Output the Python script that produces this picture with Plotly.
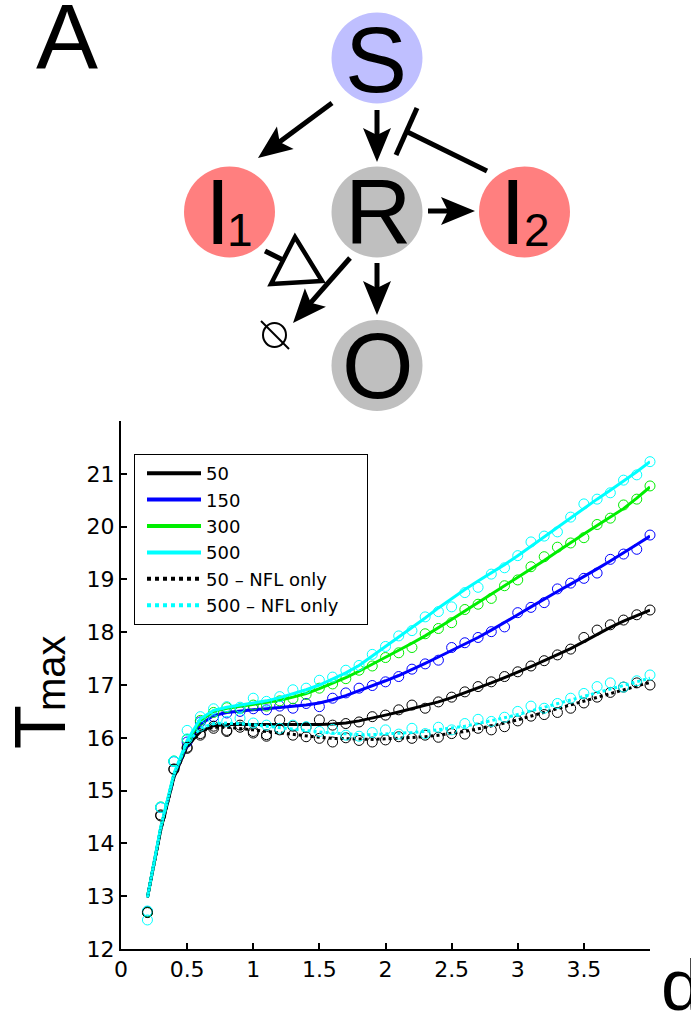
import math
import plotly.graph_objects as go

W, H = 691, 1015
FONT = "Liberation Sans, Arial, Helvetica, sans-serif"
TICKFONT = "DejaVu Sans, Verdana, sans-serif"

# ---------------- data ----------------
d_values = [0.2, 0.3, 0.4, 0.5, 0.6, 0.7, 0.8, 0.9, 1.0, 1.1, 1.2, 1.3, 1.4,
            1.5, 1.6, 1.7, 1.8, 1.9, 2.0, 2.1, 2.2, 2.3, 2.4, 2.5, 2.6, 2.7,
            2.8, 2.9, 3.0, 3.1, 3.2, 3.3, 3.4, 3.5, 3.6, 3.7, 3.8, 3.9, 4.0]

series_names = ["50", "150", "300", "500", "50 \u2013 NFL only", "500 \u2013 NFL only"]

obs_50 = [12.70, 14.54, 15.40, 15.80, 16.05, 16.18, 16.12, 16.24, 16.09, 16.06, 16.34, 16.22, 16.20,
          16.34, 16.24, 16.27, 16.30, 16.40, 16.43, 16.53, 16.62, 16.56, 16.68, 16.77, 16.87, 16.97,
          17.06, 17.16, 17.25, 17.36, 17.46, 17.57, 17.68, 17.90, 18.04, 18.14, 18.23, 18.33, 18.42]
obs_150 = [12.71, 14.68, 15.55, 15.92, 16.30, 16.40, 16.47, 16.50, 16.55, 16.53, 16.60, 16.56, 16.65,
           16.59, 16.75, 16.85, 16.94, 16.99, 17.06, 17.16, 17.30, 17.40, 17.47, 17.71, 17.80, 17.90,
           18.01, 18.10, 18.37, 18.47, 18.56, 18.82, 18.93, 19.02, 19.12, 19.38, 19.48, 19.57, 19.84]
obs_300 = [12.70, 14.69, 15.56, 15.97, 16.33, 16.48, 16.57, 16.55, 16.62, 16.60, 16.70, 16.74, 16.82,
           16.94, 17.02, 17.12, 17.28, 17.36, 17.52, 17.61, 17.71, 17.97, 18.07, 18.18, 18.43, 18.53,
           18.64, 18.88, 18.99, 19.24, 19.43, 19.61, 19.69, 19.79, 20.04, 20.16, 20.41, 20.52, 20.77]
obs_500 = [12.72, 14.69, 15.56, 16.14, 16.40, 16.55, 16.59, 16.58, 16.75, 16.69, 16.78, 16.91, 16.94,
           17.09, 17.15, 17.28, 17.37, 17.58, 17.73, 17.93, 18.03, 18.29, 18.39, 18.48, 18.75, 18.85,
           19.10, 19.22, 19.45, 19.71, 19.82, 19.90, 20.18, 20.43, 20.52, 20.64, 20.88, 20.98, 21.23]
obs_50_nfl = [12.69, 14.52, 15.41, 15.82, 16.08, 16.22, 16.14, 16.20, 16.12, 16.03, 16.15, 16.05, 16.02,
              15.99, 15.92, 16.00, 15.95, 15.92, 15.96, 16.02, 15.99, 16.05, 16.01, 16.08, 16.07, 16.18,
              16.15, 16.21, 16.32, 16.41, 16.44, 16.48, 16.56, 16.66, 16.77, 16.86, 16.96, 17.04, 17.00]
obs_500_nfl = [12.55, 14.68, 15.55, 15.98, 16.22, 16.34, 16.31, 16.37, 16.28, 16.24, 16.18, 16.24, 16.21,
               16.12, 16.16, 16.05, 16.03, 16.10, 16.15, 16.07, 16.18, 16.08, 16.20, 16.15, 16.27, 16.35,
               16.31, 16.39, 16.50, 16.60, 16.56, 16.65, 16.75, 16.84, 16.97, 17.04, 16.96, 17.08, 17.19]

fit_50 = [12.98, 14.25, 15.25, 15.84, 16.12, 16.23, 16.25, 16.25, 16.25, 16.25, 16.25, 16.24, 16.24,
          16.25, 16.26, 16.28, 16.32, 16.37, 16.43, 16.49, 16.55, 16.61, 16.68, 16.76, 16.85, 16.95,
          17.04, 17.14, 17.24, 17.35, 17.46, 17.57, 17.69, 17.82, 17.96, 18.09, 18.21, 18.32, 18.42]
fit_150 = [12.98, 14.27, 15.28, 15.88, 16.25, 16.42, 16.48, 16.51, 16.53, 16.55, 16.57, 16.59, 16.62,
           16.66, 16.72, 16.80, 16.89, 16.98, 17.08, 17.18, 17.29, 17.41, 17.53, 17.65, 17.77, 17.90,
           18.04, 18.18, 18.33, 18.48, 18.63, 18.77, 18.91, 19.05, 19.20, 19.35, 19.50, 19.66, 19.82]
fit_300 = [12.98, 14.28, 15.30, 15.92, 16.32, 16.50, 16.56, 16.60, 16.63, 16.67, 16.71, 16.77, 16.84,
           16.93, 17.03, 17.14, 17.26, 17.39, 17.52, 17.65, 17.79, 17.93, 18.08, 18.24, 18.40, 18.56,
           18.72, 18.88, 19.03, 19.19, 19.36, 19.53, 19.70, 19.86, 20.02, 20.18, 20.34, 20.54, 20.75]
fit_500 = [12.98, 14.30, 15.32, 15.95, 16.36, 16.52, 16.58, 16.62, 16.66, 16.70, 16.76, 16.83, 16.91,
           17.00, 17.11, 17.23, 17.37, 17.55, 17.72, 17.90, 18.08, 18.27, 18.46, 18.64, 18.81, 18.97,
           19.12, 19.28, 19.45, 19.63, 19.80, 19.98, 20.17, 20.35, 20.52, 20.69, 20.86, 21.04, 21.23]
fit_50_nfl = [12.98, 14.25, 15.25, 15.84, 16.12, 16.20, 16.20, 16.18, 16.15, 16.12, 16.09, 16.06, 16.03,
              16.01, 15.99, 15.98, 15.97, 15.97, 15.98, 15.99, 16.00, 16.02, 16.05, 16.08, 16.12, 16.17,
              16.22, 16.28, 16.34, 16.41, 16.48, 16.55, 16.62, 16.70, 16.77, 16.84, 16.91, 16.98, 17.05]
fit_500_nfl = [12.98, 14.30, 15.30, 15.90, 16.18, 16.27, 16.28, 16.27, 16.25, 16.22, 16.19, 16.16, 16.13,
               16.11, 16.09, 16.07, 16.06, 16.06, 16.07, 16.08, 16.10, 16.12, 16.15, 16.18, 16.22, 16.27,
               16.32, 16.38, 16.44, 16.51, 16.57, 16.64, 16.71, 16.78, 16.85, 16.92, 16.99, 17.06, 17.13]

x_tick_vals = [0, 0.5, 1, 1.5, 2, 2.5, 3, 3.5]
x_tick_text = ["0", "0.5", "1", "1.5", "2", "2.5", "3", "3.5"]
y_tick_vals = [12, 13, 14, 15, 16, 17, 18, 19, 20, 21]
y_tick_text = ["12", "13", "14", "15", "16", "17", "18", "19", "20", "21"]

# ---------------- styles ----------------
colors = ["#000000", "#0000FF", "#00EE00", "#00FFFF", "#000000", "#00FFFF"]
dashes = ["solid", "solid", "solid", "solid", "dot", "dot"]
obs_all = [obs_50, obs_150, obs_300, obs_500, obs_50_nfl, obs_500_nfl]
fit_all = [fit_50, fit_150, fit_300, fit_500, fit_50_nfl, fit_500_nfl]
LEGEND_PAD = "\u00a0" * 4   # extra right padding inside the legend box


def px(v):
    return v / W


def py(v):
    return 1 - v / H


fig = go.Figure()

# legend-only entries (thicker sample lines, as in the reference legend)
for name, c, dsh in zip(series_names, colors, dashes):
    fig.add_trace(go.Scatter(x=[None], y=[None], mode="lines", name=name + LEGEND_PAD,
                             line=dict(color=c, width=4, dash=dsh),
                             legendgroup=name, showlegend=True))

for name, c, dsh, ob, ft in zip(series_names, colors, dashes, obs_all, fit_all):
    fig.add_trace(go.Scatter(x=d_values, y=ob, mode="markers", showlegend=False,
                             legendgroup=name, cliponaxis=False, hoverinfo="skip",
                             marker=dict(symbol="circle-open", size=10, color=c,
                                         line=dict(width=1, color=c))))
    fig.add_trace(go.Scatter(x=d_values, y=ft, mode="lines", showlegend=False,
                             legendgroup=name, cliponaxis=False,
                             line=dict(color=c, width=3, dash=dsh)))

shapes = []
annotations = []

# ---------------- network diagram (panel A) ----------------
nodes = {
    "S": (377, 58, "#BFBFFF"),
    "I1": (229.5, 212, "#FF7F7F"),
    "R": (377, 212, "#BFBFBF"),
    "I2": (524.5, 212, "#FF7F7F"),
    "O": (377, 365.5, "#BFBFBF"),
}
RAD = 45.5
for key, (cx, cy, col) in nodes.items():
    shapes.append(dict(type="circle", xref="paper", yref="paper",
                       x0=px(cx - RAD), x1=px(cx + RAD), y0=py(cy + RAD), y1=py(cy - RAD),
                       fillcolor=col, line=dict(width=0), layer="below"))

LW = 5


def seg(p0, p1, w=LW, color="black"):
    shapes.append(dict(type="line", xref="paper", yref="paper",
                       x0=px(p0[0]), y0=py(p0[1]), x1=px(p1[0]), y1=py(p1[1]),
                       line=dict(color=color, width=w)))


def poly(pts, fill="black", lw=0):
    path = "M " + " L ".join(f"{px(a):.5f},{py(b):.5f}" for a, b in pts) + " Z"
    shapes.append(dict(type="path", xref="paper", yref="paper", path=path,
                       fillcolor=fill, line=dict(color="black", width=lw)))


def arrow(tail, tip, L=34, hw=14, notch=7):
    dx, dy = tip[0] - tail[0], tip[1] - tail[1]
    n = math.hypot(dx, dy)
    ux, uy = dx / n, dy / n
    nx, ny = -uy, ux
    bx, by = tip[0] - L * ux, tip[1] - L * uy
    mid = (tip[0] - (L - notch) * ux, tip[1] - (L - notch) * uy)
    seg(tail, (mid[0] + 2 * ux, mid[1] + 2 * uy))
    poly([tip, (bx + hw * nx, by + hw * ny), mid, (bx - hw * nx, by - hw * ny)])


arrow((332, 103), (258, 158))      # S -> I1
arrow((377, 110), (377, 162))      # S -> R
arrow((428, 211), (475, 211))      # R -> I2
arrow((377, 263), (377, 315))      # R -> O
arrow((350, 258), (293, 323))      # R -> degradation

# I2 inhibits S -> R
seg((487, 171), (406.5, 131.5))
seg((417, 108), (396, 155))

# I1 acts on degradation (open triangle head)
seg((265, 251), (283, 260))
poly([(295, 237), (271, 284), (322, 281)], fill="white", lw=4.5)

# empty-set symbol
shapes.append(dict(type="circle", xref="paper", yref="paper",
                   x0=px(263), x1=px(286), y0=py(347), y1=py(323),
                   line=dict(color="black", width=2)))
seg((261, 321), (289, 349), w=2)


def label(txt, x, y, size, angle=0, family=FONT, xanchor="center"):
    annotations.append(dict(text=txt, x=px(x), y=py(y), xref="paper", yref="paper",
                            showarrow=False, xanchor=xanchor, yanchor="middle",
                            textangle=angle, borderpad=0,
                            font=dict(size=size, family=family, color="black")))


label("A", 67, 37, 93)
label("S", 376, 60, 93)
label("R", 377.5, 212, 92)
label("I", 218, 212, 92)
label("1", 240, 230, 46)
label("I", 513, 212, 92)
label("2", 537, 230, 46)
label("O", 377.5, 366, 92)

# axis titles
label("T", 40, 727, 72, angle=-90)
label("max", 51, 673, 40, angle=-90,
      family="Liberation Sans Narrow, Arial Narrow, Liberation Sans, Arial")
label("d", 659.5, 984, 73, xanchor="left")

fig.update_layout(
    width=W, height=H,
    margin=dict(l=0, r=0, t=0, b=0, autoexpand=False),
    paper_bgcolor="white", plot_bgcolor="white",
    font=dict(family=FONT, color="black"),
    shapes=shapes, annotations=annotations,
    showlegend=True,
    legend=dict(x=px(134), y=py(454), xanchor="left", yanchor="top",
                bgcolor="white", bordercolor="black", borderwidth=1,
                font=dict(size=18, family=TICKFONT, color="black"),
                itemwidth=54, indentation=7,
                traceorder="grouped", tracegroupgap=0),
    xaxis=dict(domain=[px(121), px(650)], range=[0, 4], showline=True,
               linecolor="black", linewidth=2, ticks="inside", ticklen=6,
               tickwidth=1.5, tickcolor="black", tickvals=x_tick_vals,
               ticktext=x_tick_text, tickfont=dict(size=22, family=TICKFONT),
               showgrid=False, zeroline=False, automargin=False),
    yaxis=dict(domain=[py(949), py(421)], range=[12, 22], showline=True,
               linecolor="black", linewidth=2, ticks="inside", ticklen=6,
               tickwidth=1.5, tickcolor="black", tickvals=y_tick_vals,
               ticktext=y_tick_text, tickfont=dict(size=22, family=TICKFONT),
               showgrid=False, zeroline=False, automargin=False),
)

fig.write_html(
    "out.html",
    config={"displayModeBar": False},
    post_script=("document.body.style.margin='0px';"
                 "document.body.style.overflow='hidden';"
                 "document.documentElement.style.overflow='hidden';"),
)
